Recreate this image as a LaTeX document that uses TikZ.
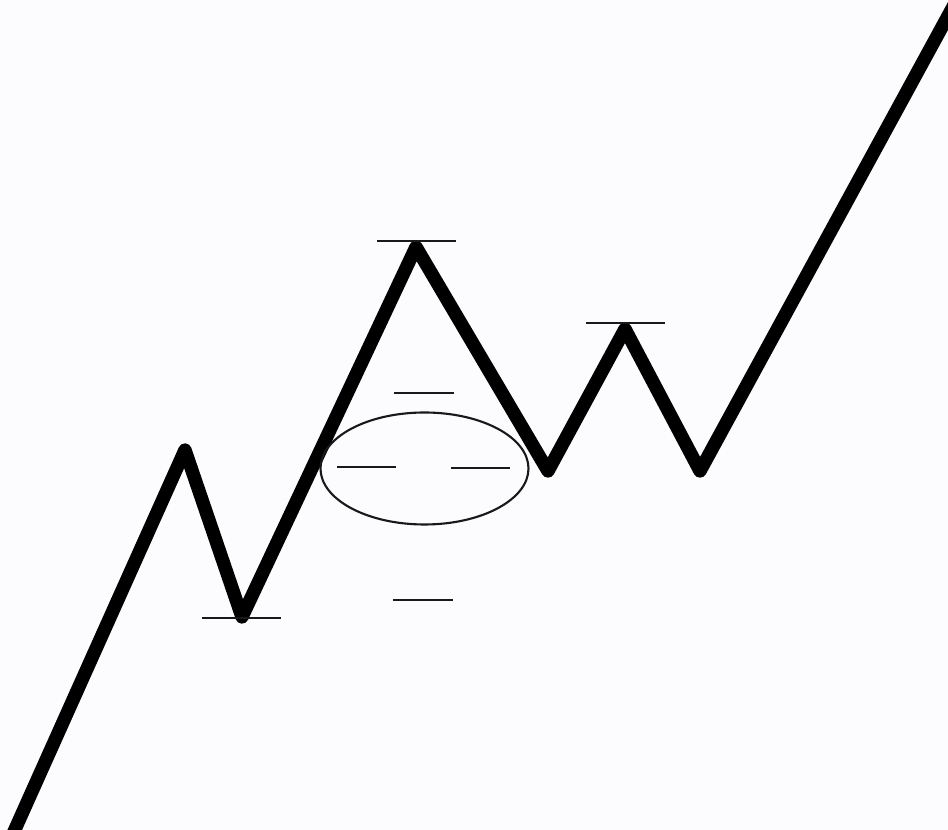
\documentclass[tikz,border=0pt]{standalone}
\usetikzlibrary{calc}
\definecolor{Paper}{RGB}{252,251,254}
\definecolor{Ink}{RGB}{0,0,0}

\begin{document}
\begin{tikzpicture}[x=0.02cm,y=-0.02cm,
 w/.style={line width=7.6pt,Ink,line join=round,line cap=butt},
 lv/.style={line width=1.2pt,Ink!90}]
\fill[Paper] (0,0) rectangle (948,830);
\useasboundingbox (0,0) rectangle (948,830);
\clip (0,0) rectangle (948,830);
% zigzag
\coordinate (s) at (-5,874);
\coordinate (p1) at (185,450);
\coordinate (v1) at (242,617);
\coordinate (p2) at (416,247);
\coordinate (v2) at (548,471);
\coordinate (p3) at (625,329);
\coordinate (v3) at (700,471);
\coordinate (e) at (960,-6);
\draw[w] (s)--(p1)--(v1)--(p2)--(v2)--(p3)--(v3)--(e);
% levels
\draw[lv] (202,618)--(281,618);
\draw[lv] (377,241)--(456,241);
\draw[lv] (586,323)--(665,323);
\draw[lv] (394,393)--(454,393);
\draw[lv] (337,467)--(396,467);
\draw[lv] (451,468)--(510,468);
\draw[lv] (393,600)--(453,600);
\draw[lv] (424.5,468.5) ellipse [x radius=104,y radius=56];
\end{tikzpicture}
\end{document}
